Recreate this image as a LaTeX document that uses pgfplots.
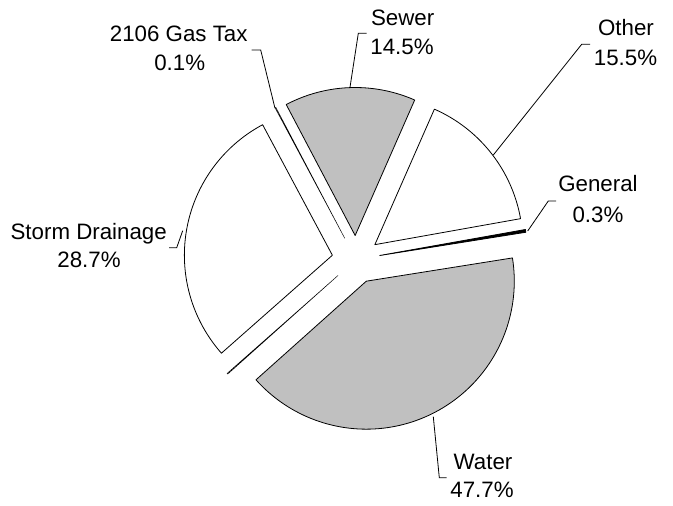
\documentclass[border=0pt]{standalone}
\usepackage{pgfplots}
\pgfplotsset{compat=1.18}
\usepackage{fontspec}
\setmainfont{Liberation Sans}
\definecolor{piegray}{HTML}{C0C0C0}
\newcommand\labfont{\fontsize{22.3}{28}\selectfont}
% pie geometry (picture units = pixels of the reference)
\newcommand\pieCX{356}
\newcommand\pieCY{259.5}
\newcommand\pieR{148}
\newcommand\pieOff{24}
\newcommand\pieStart{-138.2}
\xdef\pieCum{0}
% #1 share of the drawn pie (percent), #2 fill colour, #3 line width
\newcommand\pieslice[3]{%
  \pgfmathsetmacro\aA{\pieStart+3.6*\pieCum}%
  \pgfmathsetmacro\aB{\aA+3.6*#1}%
  \pgfmathsetmacro\aM{(\aA+\aB)/2}%
  \pgfmathsetmacro\px{\pieCX+\pieOff*cos(\aM)}%
  \pgfmathsetmacro\py{\pieCY-\pieOff*sin(\aM)}%
  \edef\doslice{\noexpand\addplot[fill=#2, draw=black, line width=#3, line join=round, domain=\aA:\aB, samples=90] ({\px+\pieR*cos(x)},{\py-\pieR*sin(x)}) -- (axis cs:\px,\py) -- cycle;}%
  \doslice
  \pgfmathsetmacro\tmp{\pieCum+#1}\xdef\pieCum{\tmp}%
}
\begin{document}
\begin{tikzpicture}
\begin{axis}[hide axis, scale only axis, width=673pt, height=506pt,
  xmin=0, xmax=673, ymin=0, ymax=506, y dir=reverse, clip=false]
% slices, counter-clockwise from the Water slice
\pieslice{40.9}{piegray}{0.8pt}  % Water
\pieslice{0.3}{black}{0.8pt}     % General
\pieslice{15.6}{white}{0.8pt}    % Other
\pieslice{14.3}{piegray}{0.8pt}  % Sewer
\pieslice{0.1}{white}{0.45pt}    % 2106 Gas Tax
\pieslice{28.7}{white}{0.8pt}    % Storm Drainage
\pieslice{0.1}{white}{0.45pt}    % (unlabelled)
% leader lines
\addplot[black, line width=0.8pt] coordinates {(251.7,50) (260.7,50) (275,108.3)};
\addplot[black, line width=0.8pt] coordinates {(366.7,33.3) (358.3,33.3) (350,87.3)};
\addplot[black, line width=0.8pt] coordinates {(590,44.3) (581.7,44.3) (493.3,155)};
\addplot[black, line width=0.8pt] coordinates {(556,201) (548.3,201) (527.7,231)};
\addplot[black, line width=0.8pt] coordinates {(169,247.7) (176.7,247.7) (182.7,230.7)};
\addplot[black, line width=0.8pt] coordinates {(433.3,416.7) (439.3,477.7) (446.7,477.7)};
% labels
\node[anchor=base, font=\labfont] at (axis cs:178.7,41.7) {2106 Gas Tax};
\node[anchor=base, font=\labfont] at (axis cs:179.7,70) {0.1\%};
\node[anchor=base, font=\labfont] at (axis cs:402.7,25) {Sewer};
\node[anchor=base, font=\labfont] at (axis cs:402,54) {14.5\%};
\node[anchor=base, font=\labfont] at (axis cs:626,35.5) {Other};
\node[anchor=base, font=\labfont] at (axis cs:625.5,65) {15.5\%};
\node[anchor=base, font=\labfont] at (axis cs:598,191.5) {General};
\node[anchor=base, font=\labfont] at (axis cs:598,222) {0.3\%};
\node[anchor=base, font=\labfont] at (axis cs:88.7,239.3) {Storm Drainage};
\node[anchor=base, font=\labfont] at (axis cs:89,267.3) {28.7\%};
\node[anchor=base, font=\labfont] at (axis cs:483,469) {Water};
\node[anchor=base, font=\labfont] at (axis cs:482,497) {47.7\%};
\end{axis}
\path (current axis.south west) rectangle (current axis.north east);
\end{tikzpicture}
\end{document}
